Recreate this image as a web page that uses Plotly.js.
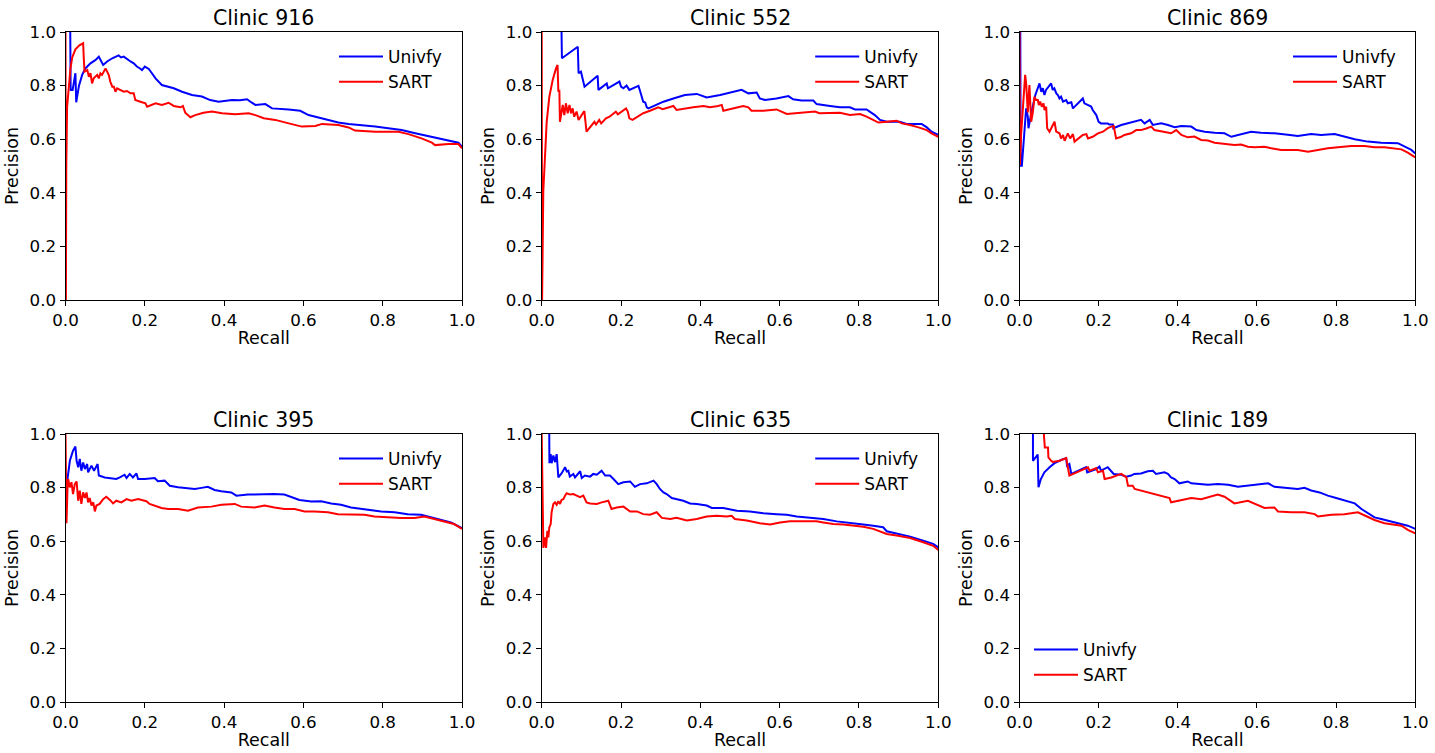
<!DOCTYPE html>
<html>
<head>
<meta charset="utf-8">
<script src="https://cdn.plot.ly/plotly-3.0.1.min.js"></script>
<style>html,body{margin:0;padding:0;background:#fff;}#chart{width:1435px;height:753px;}</style>
</head>
<body>
<div id="chart"></div>
<script>
// ---- Data: [recall, precision] pairs ----
const clinicNames = ["Clinic 916", "Clinic 552", "Clinic 869", "Clinic 395", "Clinic 635", "Clinic 189"];
const seriesNames = ["Univfy", "SART"];
const tickValues = [0, 0.2, 0.4, 0.6, 0.8, 1.0];

const clinic916Univfy = [[0.012,1.0],[0.013,0.784],[0.018,0.784],[0.025,0.846],[0.027,0.738],[0.034,0.80],[0.042,0.84],[0.050,0.864],[0.063,0.883],[0.076,0.896],[0.084,0.908],[0.095,0.877],[0.105,0.89],[0.118,0.902],[0.134,0.913],[0.140,0.905],[0.147,0.908],[0.155,0.898],[0.164,0.890],[0.172,0.883],[0.180,0.871],[0.188,0.864],[0.193,0.858],[0.200,0.871],[0.210,0.862],[0.218,0.846],[0.227,0.827],[0.243,0.802],[0.256,0.796],[0.273,0.790],[0.294,0.777],[0.319,0.765],[0.344,0.759],[0.365,0.746],[0.386,0.740],[0.405,0.742],[0.420,0.746],[0.440,0.745],[0.458,0.749],[0.468,0.738],[0.479,0.728],[0.504,0.731],[0.515,0.722],[0.521,0.715],[0.563,0.711],[0.592,0.706],[0.613,0.690],[0.647,0.678],[0.663,0.672],[0.688,0.662],[0.714,0.657],[0.747,0.653],[0.781,0.647],[0.814,0.641],[0.848,0.634],[0.882,0.622],[0.924,0.609],[0.966,0.597],[0.991,0.587],[1.0,0.572]];
const clinic916Sart = [[0,1.0],[0.001,0.0],[0.002,0.5],[0.004,0.72],[0.008,0.80],[0.0125,0.864],[0.017,0.905],[0.025,0.935],[0.035,0.95],[0.0445,0.958],[0.046,0.905],[0.048,0.852],[0.055,0.858],[0.059,0.833],[0.063,0.846],[0.067,0.808],[0.071,0.827],[0.080,0.840],[0.084,0.827],[0.088,0.846],[0.092,0.840],[0.101,0.864],[0.105,0.852],[0.109,0.840],[0.113,0.815],[0.118,0.796],[0.122,0.796],[0.126,0.777],[0.130,0.790],[0.139,0.784],[0.147,0.777],[0.155,0.780],[0.164,0.771],[0.172,0.771],[0.176,0.746],[0.189,0.740],[0.2015,0.734],[0.206,0.721],[0.218,0.727],[0.227,0.734],[0.243,0.728],[0.26,0.736],[0.273,0.724],[0.29,0.719],[0.296,0.724],[0.302,0.699],[0.315,0.682],[0.327,0.69],[0.348,0.699],[0.369,0.703],[0.395,0.697],[0.428,0.693],[0.462,0.697],[0.479,0.690],[0.50,0.678],[0.529,0.672],[0.563,0.659],[0.596,0.647],[0.630,0.649],[0.647,0.657],[0.688,0.653],[0.714,0.644],[0.730,0.632],[0.781,0.628],[0.840,0.628],[0.865,0.619],[0.898,0.603],[0.924,0.587],[0.932,0.578],[0.966,0.582],[0.991,0.582],[1.0,0.566]];

const clinic552Univfy = [[0.050,1.0],[0.051,0.902],[0.091,0.945],[0.093,0.846],[0.099,0.852],[0.103,0.821],[0.108,0.796],[0.141,0.837],[0.143,0.784],[0.164,0.808],[0.167,0.790],[0.196,0.815],[0.200,0.796],[0.206,0.790],[0.214,0.800],[0.221,0.784],[0.238,0.796],[0.244,0.799],[0.248,0.780],[0.256,0.740],[0.261,0.737],[0.265,0.719],[0.269,0.715],[0.307,0.740],[0.332,0.752],[0.361,0.765],[0.391,0.769],[0.408,0.761],[0.416,0.756],[0.45,0.765],[0.475,0.774],[0.504,0.784],[0.521,0.771],[0.542,0.774],[0.55,0.752],[0.563,0.746],[0.592,0.752],[0.622,0.761],[0.634,0.749],[0.655,0.744],[0.685,0.744],[0.693,0.731],[0.727,0.724],[0.752,0.719],[0.777,0.719],[0.79,0.711],[0.819,0.711],[0.828,0.703],[0.84,0.690],[0.853,0.672],[0.87,0.665],[0.903,0.665],[0.92,0.657],[0.958,0.657],[0.971,0.644],[0.983,0.628],[1.0,0.616]];
const clinic552Sart = [[0,1.0],[0.001,0.0],[0.004,0.404],[0.0084,0.553],[0.0126,0.665],[0.0193,0.759],[0.0277,0.821],[0.036,0.864],[0.040,0.877],[0.042,0.777],[0.0445,0.784],[0.046,0.665],[0.053,0.728],[0.057,0.690],[0.061,0.734],[0.0655,0.697],[0.070,0.728],[0.074,0.697],[0.078,0.715],[0.082,0.684],[0.088,0.703],[0.093,0.672],[0.103,0.697],[0.1075,0.705],[0.113,0.628],[0.124,0.647],[0.133,0.665],[0.137,0.655],[0.145,0.672],[0.150,0.659],[0.162,0.678],[0.171,0.684],[0.187,0.703],[0.192,0.693],[0.208,0.709],[0.2126,0.715],[0.217,0.703],[0.221,0.678],[0.229,0.672],[0.238,0.680],[0.256,0.697],[0.273,0.706],[0.294,0.719],[0.305,0.712],[0.324,0.721],[0.332,0.724],[0.34,0.709],[0.361,0.715],[0.382,0.719],[0.408,0.724],[0.424,0.719],[0.445,0.724],[0.454,0.728],[0.458,0.706],[0.483,0.715],[0.508,0.724],[0.521,0.719],[0.529,0.706],[0.559,0.706],[0.592,0.711],[0.618,0.694],[0.643,0.697],[0.668,0.699],[0.689,0.703],[0.70,0.697],[0.727,0.699],[0.752,0.699],[0.777,0.690],[0.803,0.694],[0.819,0.684],[0.836,0.672],[0.849,0.662],[0.87,0.665],[0.895,0.669],[0.908,0.659],[0.929,0.653],[0.95,0.644],[0.971,0.634],[0.983,0.622],[1.0,0.609]];

const clinic869Univfy = [[0.002,1.0],[0.003,0.501],[0.006,0.501],[0.0126,0.628],[0.0168,0.715],[0.021,0.684],[0.0227,0.641],[0.030,0.70],[0.040,0.765],[0.0505,0.808],[0.055,0.777],[0.059,0.790],[0.063,0.765],[0.067,0.784],[0.080,0.808],[0.084,0.784],[0.088,0.790],[0.093,0.771],[0.097,0.765],[0.101,0.752],[0.105,0.759],[0.110,0.740],[0.118,0.746],[0.122,0.734],[0.131,0.738],[0.135,0.715],[0.160,0.752],[0.164,0.734],[0.173,0.728],[0.181,0.722],[0.185,0.709],[0.194,0.690],[0.200,0.665],[0.206,0.659],[0.223,0.659],[0.227,0.655],[0.236,0.655],[0.237,0.641],[0.257,0.653],[0.282,0.662],[0.307,0.672],[0.316,0.659],[0.329,0.672],[0.337,0.653],[0.358,0.659],[0.375,0.653],[0.392,0.645],[0.409,0.649],[0.434,0.647],[0.447,0.634],[0.468,0.628],[0.493,0.624],[0.518,0.622],[0.535,0.609],[0.56,0.619],[0.585,0.628],[0.61,0.624],[0.644,0.622],[0.678,0.617],[0.703,0.612],[0.737,0.619],[0.762,0.616],[0.796,0.619],[0.821,0.609],[0.847,0.60],[0.88,0.591],[0.914,0.587],[0.956,0.585],[0.973,0.572],[0.99,0.560],[1.0,0.547]];
const clinic869Sart = [[0.0,1.0],[0.001,0.504],[0.004,0.616],[0.0084,0.715],[0.0143,0.84],[0.0168,0.808],[0.021,0.70],[0.025,0.802],[0.0295,0.665],[0.0337,0.70],[0.0379,0.759],[0.042,0.746],[0.0463,0.746],[0.0489,0.727],[0.0522,0.740],[0.0564,0.721],[0.0607,0.734],[0.0632,0.709],[0.0674,0.721],[0.0699,0.641],[0.0758,0.628],[0.0843,0.653],[0.0885,0.665],[0.0927,0.628],[0.101,0.622],[0.105,0.603],[0.110,0.616],[0.114,0.594],[0.122,0.622],[0.128,0.603],[0.135,0.619],[0.139,0.591],[0.148,0.601],[0.160,0.616],[0.169,0.619],[0.173,0.603],[0.185,0.609],[0.198,0.622],[0.211,0.628],[0.223,0.641],[0.232,0.647],[0.238,0.649],[0.244,0.603],[0.257,0.609],[0.265,0.616],[0.282,0.622],[0.295,0.634],[0.307,0.634],[0.32,0.640],[0.333,0.647],[0.341,0.634],[0.358,0.628],[0.383,0.622],[0.396,0.634],[0.409,0.616],[0.425,0.607],[0.442,0.610],[0.459,0.597],[0.476,0.595],[0.493,0.587],[0.518,0.582],[0.543,0.578],[0.56,0.580],[0.577,0.572],[0.594,0.570],[0.619,0.572],[0.636,0.566],[0.661,0.560],[0.68,0.560],[0.703,0.560],[0.729,0.553],[0.754,0.56],[0.779,0.566],[0.805,0.570],[0.838,0.575],[0.872,0.575],[0.897,0.570],[0.922,0.570],[0.948,0.566],[0.965,0.562],[0.981,0.550],[0.99,0.541],[1.0,0.532]];

const clinic395Univfy = [[0.004,0.82],[0.011,0.90],[0.019,0.938],[0.025,0.953],[0.028,0.90],[0.032,0.876],[0.036,0.907],[0.040,0.863],[0.0445,0.894],[0.049,0.869],[0.0546,0.888],[0.057,0.857],[0.0655,0.882],[0.072,0.863],[0.081,0.888],[0.084,0.845],[0.099,0.838],[0.116,0.836],[0.128,0.832],[0.137,0.838],[0.149,0.848],[0.154,0.836],[0.162,0.851],[0.170,0.838],[0.179,0.853],[0.183,0.832],[0.2,0.832],[0.225,0.836],[0.233,0.824],[0.25,0.826],[0.263,0.807],[0.284,0.801],[0.309,0.799],[0.326,0.795],[0.343,0.799],[0.359,0.803],[0.376,0.791],[0.393,0.786],[0.418,0.782],[0.431,0.770],[0.46,0.774],[0.494,0.776],[0.525,0.776],[0.552,0.774],[0.569,0.764],[0.59,0.754],[0.62,0.748],[0.645,0.749],[0.67,0.741],[0.695,0.736],[0.72,0.726],[0.746,0.720],[0.771,0.716],[0.796,0.711],[0.83,0.708],[0.863,0.701],[0.897,0.699],[0.922,0.689],[0.947,0.679],[0.972,0.670],[1.0,0.649]];
const clinic395Sart = [[0.0,1.0],[0.0025,0.667],[0.005,0.795],[0.0067,0.832],[0.011,0.801],[0.015,0.820],[0.019,0.776],[0.0235,0.813],[0.028,0.823],[0.032,0.751],[0.036,0.789],[0.040,0.739],[0.0445,0.782],[0.049,0.761],[0.053,0.782],[0.057,0.745],[0.061,0.761],[0.0655,0.733],[0.070,0.745],[0.074,0.711],[0.078,0.733],[0.086,0.739],[0.095,0.757],[0.103,0.766],[0.112,0.754],[0.12,0.741],[0.128,0.751],[0.141,0.745],[0.154,0.757],[0.166,0.751],[0.183,0.757],[0.196,0.751],[0.204,0.749],[0.212,0.739],[0.225,0.733],[0.242,0.724],[0.259,0.720],[0.284,0.720],[0.309,0.714],[0.334,0.726],[0.368,0.729],[0.393,0.736],[0.427,0.739],[0.443,0.729],[0.477,0.726],[0.502,0.733],[0.527,0.726],[0.552,0.720],[0.578,0.720],[0.603,0.711],[0.628,0.711],[0.662,0.708],[0.687,0.701],[0.72,0.699],[0.754,0.699],[0.779,0.692],[0.813,0.689],[0.846,0.687],[0.88,0.687],[0.905,0.692],[0.93,0.683],[0.955,0.674],[0.98,0.664],[1.0,0.646]];

const clinic635Univfy = [[0.019,1.0],[0.0195,0.891],[0.0227,0.925],[0.025,0.891],[0.0294,0.920],[0.0336,0.895],[0.0378,0.925],[0.042,0.838],[0.050,0.853],[0.059,0.876],[0.063,0.861],[0.0672,0.863],[0.071,0.841],[0.0798,0.851],[0.084,0.838],[0.097,0.861],[0.101,0.836],[0.109,0.845],[0.122,0.841],[0.130,0.851],[0.139,0.848],[0.151,0.863],[0.160,0.845],[0.172,0.845],[0.181,0.832],[0.193,0.813],[0.206,0.820],[0.223,0.823],[0.235,0.803],[0.248,0.813],[0.265,0.816],[0.282,0.826],[0.29,0.813],[0.298,0.795],[0.307,0.782],[0.315,0.776],[0.328,0.761],[0.34,0.757],[0.357,0.751],[0.374,0.741],[0.391,0.739],[0.416,0.733],[0.429,0.724],[0.458,0.724],[0.475,0.720],[0.492,0.714],[0.525,0.711],[0.559,0.704],[0.592,0.701],[0.618,0.699],[0.643,0.692],[0.676,0.687],[0.71,0.683],[0.744,0.674],[0.777,0.667],[0.811,0.662],[0.836,0.658],[0.861,0.652],[0.87,0.637],[0.895,0.629],[0.929,0.617],[0.962,0.602],[0.987,0.590],[1.0,0.577]];
const clinic635Sart = [[0.0,1.0],[0.002,0.751],[0.0042,0.575],[0.0084,0.614],[0.011,0.575],[0.0143,0.639],[0.0168,0.614],[0.0193,0.652],[0.0227,0.664],[0.025,0.708],[0.0294,0.739],[0.0336,0.745],[0.0378,0.736],[0.042,0.749],[0.0462,0.739],[0.050,0.754],[0.0546,0.757],[0.0588,0.770],[0.063,0.779],[0.0714,0.774],[0.0798,0.776],[0.0882,0.770],[0.0966,0.764],[0.105,0.770],[0.113,0.745],[0.122,0.741],[0.139,0.739],[0.151,0.745],[0.168,0.751],[0.176,0.720],[0.189,0.726],[0.206,0.729],[0.223,0.711],[0.24,0.711],[0.256,0.701],[0.273,0.699],[0.29,0.708],[0.303,0.687],[0.324,0.683],[0.34,0.687],[0.366,0.677],[0.391,0.683],[0.416,0.692],[0.441,0.695],[0.466,0.692],[0.479,0.695],[0.487,0.683],[0.517,0.677],[0.55,0.667],[0.576,0.662],[0.601,0.670],[0.626,0.674],[0.66,0.674],[0.693,0.674],[0.71,0.670],[0.735,0.664],[0.761,0.662],[0.786,0.658],[0.811,0.654],[0.836,0.646],[0.87,0.627],[0.895,0.621],[0.929,0.612],[0.962,0.596],[0.987,0.583],[1.0,0.567]];

const clinic189Univfy = [[0.034,1.0],[0.034,0.9],[0.046,0.923],[0.048,0.801],[0.054,0.832],[0.0628,0.857],[0.076,0.876],[0.0885,0.891],[0.105,0.903],[0.118,0.91],[0.120,0.882],[0.126,0.888],[0.131,0.851],[0.168,0.876],[0.171,0.857],[0.194,0.869],[0.202,0.878],[0.206,0.863],[0.223,0.876],[0.232,0.863],[0.238,0.851],[0.257,0.848],[0.27,0.841],[0.282,0.845],[0.29,0.851],[0.307,0.853],[0.324,0.861],[0.337,0.863],[0.345,0.851],[0.366,0.857],[0.375,0.851],[0.383,0.838],[0.392,0.832],[0.404,0.816],[0.425,0.823],[0.434,0.816],[0.459,0.813],[0.476,0.811],[0.501,0.813],[0.527,0.811],[0.552,0.803],[0.577,0.807],[0.611,0.811],[0.628,0.816],[0.644,0.803],[0.67,0.799],[0.703,0.795],[0.72,0.799],[0.737,0.789],[0.758,0.782],[0.779,0.770],[0.80,0.761],[0.821,0.751],[0.847,0.741],[0.864,0.720],[0.88,0.704],[0.897,0.689],[0.914,0.683],[0.939,0.674],[0.965,0.664],[0.981,0.658],[1.0,0.646]];
const clinic189Sart = [[0.0615,1.0],[0.064,0.95],[0.072,0.95],[0.073,0.913],[0.08,0.90],[0.084,0.896],[0.101,0.9],[0.118,0.91],[0.126,0.845],[0.139,0.853],[0.173,0.876],[0.177,0.863],[0.194,0.873],[0.198,0.857],[0.211,0.863],[0.215,0.832],[0.232,0.838],[0.257,0.851],[0.27,0.838],[0.274,0.807],[0.286,0.807],[0.291,0.795],[0.307,0.789],[0.324,0.782],[0.341,0.776],[0.366,0.766],[0.379,0.761],[0.383,0.745],[0.409,0.754],[0.434,0.761],[0.459,0.757],[0.476,0.764],[0.501,0.774],[0.518,0.766],[0.531,0.754],[0.543,0.741],[0.577,0.751],[0.594,0.739],[0.619,0.724],[0.644,0.726],[0.653,0.711],[0.687,0.708],[0.72,0.708],[0.746,0.701],[0.754,0.692],[0.788,0.699],[0.821,0.701],[0.855,0.708],[0.88,0.692],[0.897,0.679],[0.922,0.667],[0.948,0.662],[0.965,0.658],[0.981,0.642],[1.0,0.629]];

const univfyCurves = [clinic916Univfy, clinic552Univfy, clinic869Univfy, clinic395Univfy, clinic635Univfy, clinic189Univfy];
const sartCurves = [clinic916Sart, clinic552Sart, clinic869Sart, clinic395Sart, clinic635Sart, clinic189Sart];

// ---- Layout geometry (pixels of a 1435x753 canvas) ----
const W = 1435, H = 753;
const colPx = [[65.5, 462], [541.7, 938.3], [1019.5, 1415.3]];
const rowPx = [[32, 300], [434, 702]];
const FONT = "DejaVu Sans, Liberation Sans, Arial, sans-serif";
const colors = {Univfy: "#0000ff", SART: "#ff0000"};

const traces = [];
const layout = {
  width: W, height: H,
  margin: {l: 0, r: 0, t: 0, b: 0},
  paper_bgcolor: "#ffffff", plot_bgcolor: "#ffffff",
  font: {family: FONT, color: "#000000", size: 17},
  showlegend: true,
  annotations: []
};

for (let i = 0; i < 6; i++) {
  const col = i % 3, row = Math.floor(i / 3);
  const n = i === 0 ? "" : String(i + 1);
  const xa = "x" + n, ya = "y" + n;
  const legId = i === 0 ? "legend" : "legend" + (i + 1);
  const xd = [colPx[col][0] / W, colPx[col][1] / W];
  const yd = [1 - rowPx[row][1] / H, 1 - rowPx[row][0] / H];
  const common = {
    range: [0, 1], tickvals: tickValues, tickformat: ".1f",
    ticks: "outside", ticklen: 5, tickwidth: 1, tickcolor: "#000",
    showline: true, mirror: true, linecolor: "#000", linewidth: 1,
    showgrid: false, zeroline: false, fixedrange: true,
    tickfont: {family: FONT, size: 16.7, color: "#000"}
  };
  layout["xaxis" + n] = Object.assign({}, common, {
    domain: xd, anchor: ya,
    title: {text: "Recall", font: {family: FONT, size: 17.5, color: "#000"}, standoff: 2}
  });
  layout["yaxis" + n] = Object.assign({}, common, {
    domain: yd, anchor: xa,
    title: {text: "Precision", font: {family: FONT, size: 17.5, color: "#000"}, standoff: 6}
  });
  layout.annotations.push({
    text: clinicNames[i], xref: "paper", yref: "paper",
    x: (xd[0] + xd[1]) / 2, y: 1 - (rowPx[row][0] - 14) / H,
    xanchor: "center", yanchor: "middle", showarrow: false,
    font: {family: FONT, size: 20.5, color: "#000"}
  });
  const bottomLeft = (i === 5);
  const legLeftPx = bottomLeft ? colPx[col][0] + 9.5 : colPx[col][0] + 268.5;
  const legTopPx = bottomLeft ? 632 : rowPx[row][0] + 7;
  layout[legId] = {
    x: legLeftPx / W, y: 1 - legTopPx / H, xanchor: "left", yanchor: "top",
    bgcolor: "rgba(255,255,255,0)", borderwidth: 0,
    font: {family: FONT, size: 17, color: "#000"},
    itemwidth: 44, tracegroupgap: 3, traceorder: "normal"
  };
  [["Univfy", univfyCurves[i]], ["SART", sartCurves[i]]].forEach(([name, pts]) => {
    traces.push({
      type: "scatter", mode: "lines", name: name,
      x: pts.map(p => p[0]), y: pts.map(p => p[1]),
      xaxis: xa, yaxis: ya, legend: legId,
      line: {color: colors[name], width: 2},
      hoverinfo: "x+y+name"
    });
  });
}

Plotly.newPlot("chart", traces, layout, {displayModeBar: false, responsive: false});
</script>
</body>
</html>
